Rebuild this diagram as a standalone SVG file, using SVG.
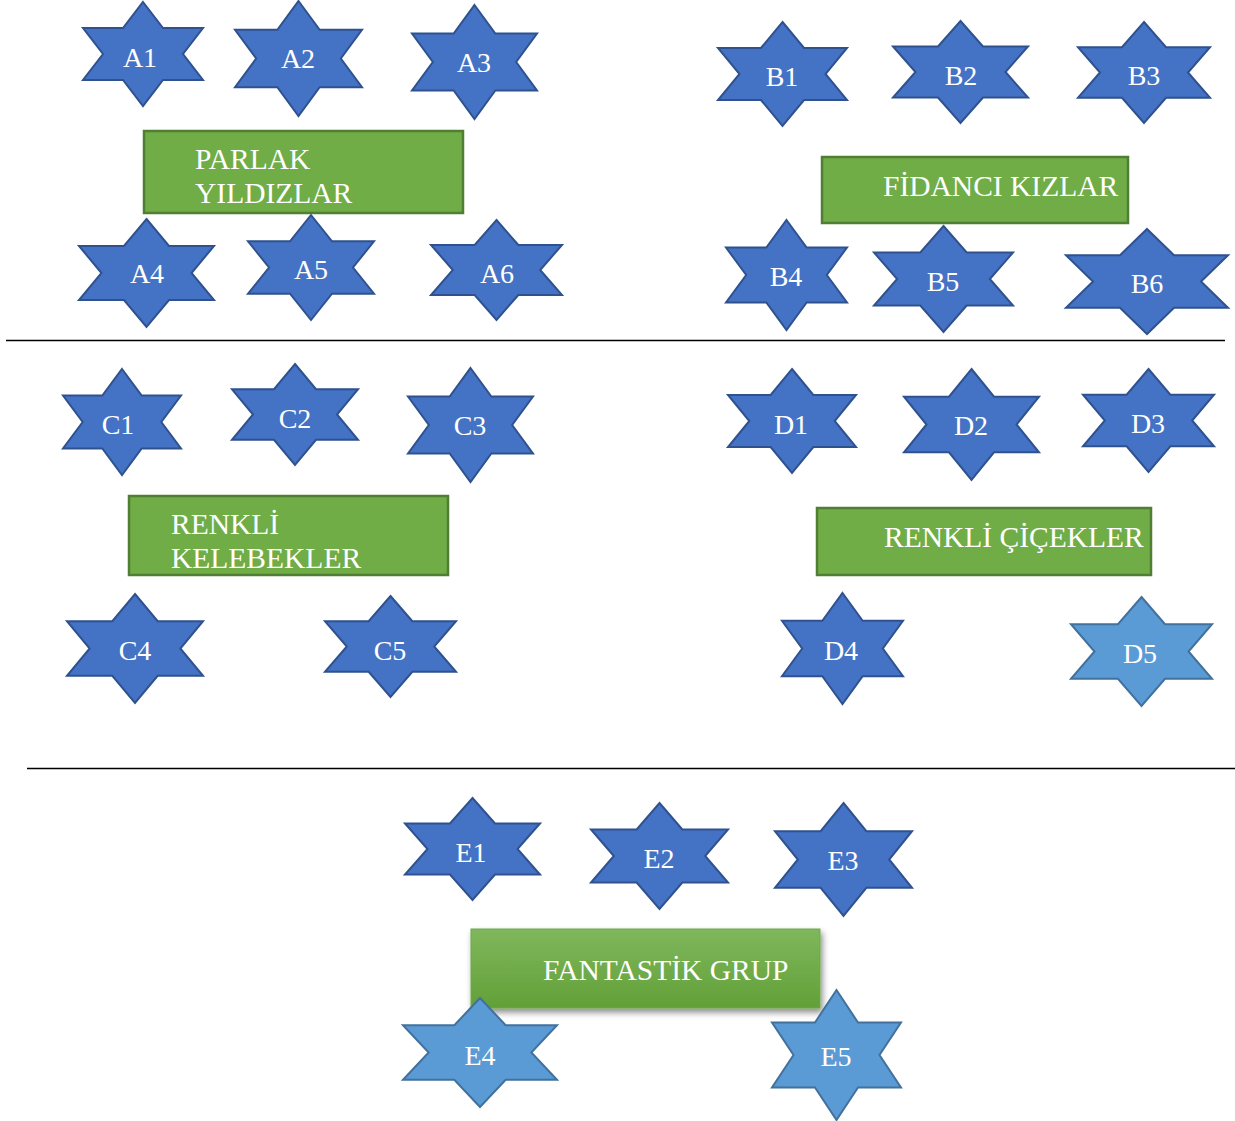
<svg xmlns="http://www.w3.org/2000/svg" xmlns:xlink="http://www.w3.org/1999/xlink" width="1235" height="1121" viewBox="0 0 1235 1121">
<style>
.s{fill:#4472C4;stroke:#2F528F;stroke-width:2}
.l{fill:#5B9BD5;stroke:#41719C;stroke-width:2}
.g{fill:#70AD47;stroke:#507E32;stroke-width:2.5}
text{font-family:"Liberation Serif","Times New Roman",serif;font-size:28px;fill:#FFFFFF}
.b{font-size:29.5px}
.c{text-anchor:middle}
.sep{stroke:#000;stroke-width:1.6}
</style>
<defs>
<path id="star" vector-effect="non-scaling-stroke" d="M0.5,0 L0.6667,0.25 L1,0.25 L0.8333,0.5 L1,0.75 L0.6667,0.75 L0.5,1 L0.3333,0.75 L0,0.75 L0.1667,0.5 L0,0.25 L0.3333,0.25 Z"/>
<linearGradient id="gg" x1="0" y1="0" x2="0" y2="1">
<stop offset="0" stop-color="#7FB75C"/>
<stop offset="1" stop-color="#62A038"/>
</linearGradient>
<filter id="sh" x="-10%" y="-20%" width="120%" height="150%">
<feDropShadow dx="2" dy="4" stdDeviation="3" flood-color="#000" flood-opacity="0.45"/>
</filter>
</defs>
<rect width="1235" height="1121" fill="#FFFFFF"/>
<g id="connectors">
<line class="sep" x1="6" y1="340.5" x2="1225" y2="340.5"/>
<line class="sep" x1="27" y1="768.5" x2="1235" y2="768.5"/>
</g>
<g id="box-parlak"><rect class="g" x="144" y="131" width="319" height="82"/><text class="b" x="195" y="169">PARLAK</text><text class="b" x="195" y="203">YILDIZLAR</text></g>
<g id="box-fidanci"><rect class="g" x="822" y="157" width="306" height="66"/><text class="b" x="883" y="196">FİDANCI KIZLAR</text></g>
<g id="box-renkli-kelebekler"><rect class="g" x="129" y="496" width="319" height="79"/><text class="b" x="171" y="534">RENKLİ</text><text class="b" x="171" y="568">KELEBEKLER</text></g>
<g id="box-renkli-cicekler"><rect class="g" x="817" y="508" width="334" height="67"/><text class="b" x="884" y="547">RENKLİ ÇİÇEKLER</text></g>
<g id="box-fantastik"><rect x="471" y="929" width="349" height="79" fill="url(#gg)" stroke="#6EA84A" stroke-width="1" filter="url(#sh)"/><text class="b" x="543" y="980">FANTASTİK GRUP</text></g>
<g id="A1"><use xlink:href="#star" class="s" transform="translate(83,2) scale(120,104)"/><text class="c" x="140" y="67">A1</text></g>
<g id="A2"><use xlink:href="#star" class="s" transform="translate(235,1) scale(127,115)"/><text class="c" x="298" y="68">A2</text></g>
<g id="A3"><use xlink:href="#star" class="s" transform="translate(412,5) scale(125,114)"/><text class="c" x="474" y="72">A3</text></g>
<g id="A4"><use xlink:href="#star" class="s" transform="translate(79,219) scale(135,108)"/><text class="c" x="147" y="283">A4</text></g>
<g id="A5"><use xlink:href="#star" class="s" transform="translate(248,215) scale(126,105)"/><text class="c" x="311" y="279">A5</text></g>
<g id="A6"><use xlink:href="#star" class="s" transform="translate(431,220) scale(131,100)"/><text class="c" x="497" y="283">A6</text></g>
<g id="B1"><use xlink:href="#star" class="s" transform="translate(718,22) scale(129,104)"/><text class="c" x="782" y="86">B1</text></g>
<g id="B2"><use xlink:href="#star" class="s" transform="translate(893,21) scale(135,102)"/><text class="c" x="961" y="85">B2</text></g>
<g id="B3"><use xlink:href="#star" class="s" transform="translate(1078,22) scale(132,101)"/><text class="c" x="1144" y="85">B3</text></g>
<g id="B4"><use xlink:href="#star" class="s" transform="translate(726,220) scale(121,110)"/><text class="c" x="786" y="286">B4</text></g>
<g id="B5"><use xlink:href="#star" class="s" transform="translate(874,226) scale(139,106)"/><text class="c" x="943" y="291">B5</text></g>
<g id="B6"><use xlink:href="#star" class="s" transform="translate(1066,229) scale(162,105)"/><text class="c" x="1147" y="293">B6</text></g>
<g id="C1"><use xlink:href="#star" class="s" transform="translate(63,369) scale(118,106)"/><text class="c" x="118" y="434">C1</text></g>
<g id="C2"><use xlink:href="#star" class="s" transform="translate(232,364) scale(126,101)"/><text class="c" x="295" y="428">C2</text></g>
<g id="C3"><use xlink:href="#star" class="s" transform="translate(408,368) scale(125,114)"/><text class="c" x="470" y="435">C3</text></g>
<g id="C4"><use xlink:href="#star" class="s" transform="translate(67,594) scale(136,109)"/><text class="c" x="135" y="660">C4</text></g>
<g id="C5"><use xlink:href="#star" class="s" transform="translate(325,596) scale(131,101)"/><text class="c" x="390" y="660">C5</text></g>
<g id="D1"><use xlink:href="#star" class="s" transform="translate(728,369) scale(128,104)"/><text class="c" x="791" y="434">D1</text></g>
<g id="D2"><use xlink:href="#star" class="s" transform="translate(904,369) scale(135,111)"/><text class="c" x="971" y="435">D2</text></g>
<g id="D3"><use xlink:href="#star" class="s" transform="translate(1083,369) scale(131,103)"/><text class="c" x="1148" y="433">D3</text></g>
<g id="D4"><use xlink:href="#star" class="s" transform="translate(782,593) scale(121,111)"/><text class="c" x="841" y="660">D4</text></g>
<g id="D5"><use xlink:href="#star" class="l" transform="translate(1071,597) scale(141,109)"/><text class="c" x="1140" y="663">D5</text></g>
<g id="E1"><use xlink:href="#star" class="s" transform="translate(405,798) scale(135,102)"/><text class="c" x="471" y="862">E1</text></g>
<g id="E2"><use xlink:href="#star" class="s" transform="translate(591,803) scale(137,106)"/><text class="c" x="659" y="868">E2</text></g>
<g id="E3"><use xlink:href="#star" class="s" transform="translate(775,803) scale(137,113)"/><text class="c" x="843" y="870">E3</text></g>
<g id="E4"><use xlink:href="#star" class="l" transform="translate(403,998) scale(154,109)"/><text class="c" x="480" y="1065">E4</text></g>
<g id="E5"><use xlink:href="#star" class="l" transform="translate(772,990) scale(129,130)"/><text class="c" x="836" y="1066">E5</text></g>
</svg>
